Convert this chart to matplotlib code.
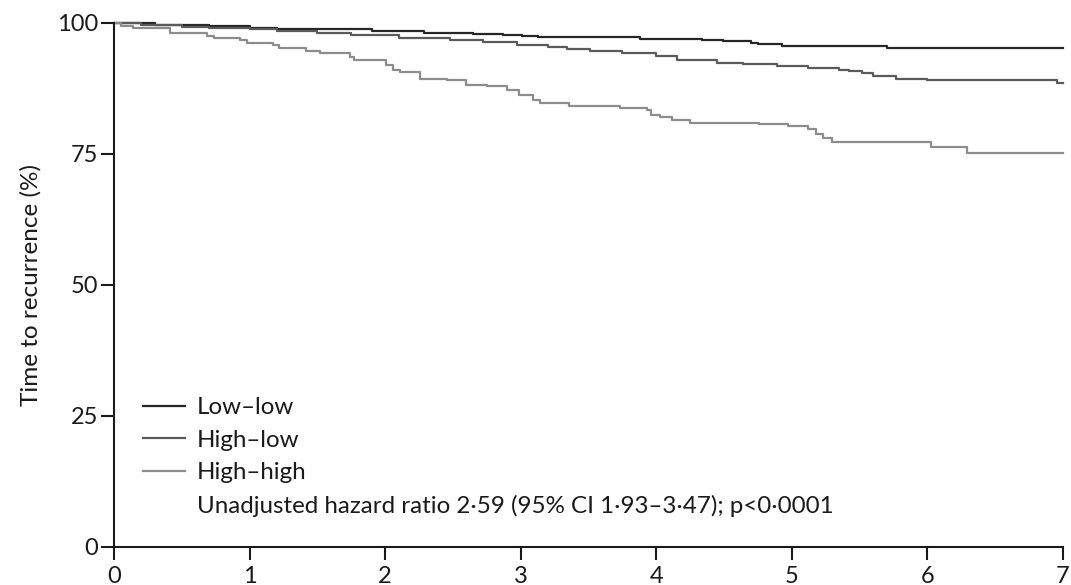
import matplotlib.pyplot as plt
from matplotlib.lines import Line2D

plt.rcParams['font.family'] = ['Lato', 'DejaVu Sans']

# Kaplan-Meier steps (years, % free of recurrence)
low_low_t = [0, 0.3, 0.7, 1.0, 1.2, 1.9, 2.29, 2.65, 2.87, 3.01, 3.13, 3.88, 4.34, 4.49, 4.7, 4.75, 4.93, 5.7, 7.0]
low_low_s = [100, 99.7, 99.4, 99.1, 98.8, 98.4, 98.1, 97.9, 97.8, 97.5, 97.3, 96.9, 96.7, 96.5, 96.1, 95.9, 95.6, 95.3, 95.3]

high_low_t = [0, 0.2, 0.5, 0.7, 1.0, 1.2, 1.5, 1.75, 2.1, 2.48, 2.72, 2.97, 3.2, 3.34, 3.51, 3.75, 4.0, 4.15,
              4.45, 4.64, 4.89, 5.12, 5.35, 5.42, 5.52, 5.6, 5.77, 6.0, 6.96, 7.0]
high_low_s = [100, 99.6, 99.3, 99.0, 98.8, 98.5, 98.0, 97.7, 97.1, 96.7, 96.3, 95.8, 95.4, 95.0, 94.7, 94.2, 93.7, 93.0,
              92.4, 92.1, 91.7, 91.4, 91.1, 90.8, 90.5, 89.8, 89.4, 89.1, 88.6, 88.6]

high_high_t = [0, 0.05, 0.14, 0.41, 0.69, 0.74, 0.93, 0.98, 1.17, 1.22, 1.42, 1.52, 1.74, 1.77, 2.01, 2.06, 2.11,
               2.26, 2.46, 2.6, 2.75, 2.9, 2.99, 3.09, 3.14, 3.36, 3.73, 3.93, 3.96, 4.03, 4.12, 4.25, 4.76, 4.97,
               5.12, 5.18, 5.23, 5.3, 6.03, 6.29, 7.0]
high_high_s = [100, 99.5, 99.0, 98.0, 97.5, 97.1, 96.8, 96.2, 95.8, 95.2, 94.7, 94.2, 93.6, 92.9, 92.0, 91.0, 90.7,
               89.4, 89.1, 88.2, 87.9, 87.2, 86.3, 85.3, 84.7, 84.1, 83.7, 83.4, 82.4, 82.0, 81.5, 81.0, 80.7, 80.3,
               79.7, 78.9, 78.0, 77.2, 76.4, 75.2, 75.2]

labels = ['Low–low', 'High–low', 'High–high']
colors = ['#262626', '#5a5a5a', '#8c8c8c']
hr_text = 'Unadjusted hazard ratio 2·59 (95% CI 1·93–3·47); p<0·0001'

fig = plt.figure(figsize=(10.71, 5.85), dpi=100)
ax = fig.add_axes([0.1064, 0.065, 0.886, 0.8957])

curves = [(low_low_t, low_low_s), (high_low_t, high_low_s), (high_high_t, high_high_s)]
for (t, s), c in zip(curves, colors):
    ax.step(t, s, where='post', color=c, lw=1.6, clip_on=False)

ax.set_xlim(0, 7)
ax.set_ylim(0, 100)
ax.set_xticks(range(8))
ax.set_yticks([0, 25, 50, 75, 100])
ax.spines['top'].set_visible(False)
ax.spines['right'].set_visible(False)
for sp in ['left', 'bottom']:
    ax.spines[sp].set_linewidth(1.5)
    ax.spines[sp].set_color('#1a1a1a')
ax.tick_params(length=9.5, width=1.5, labelsize=17, color='#1a1a1a', labelcolor='#1a1a1a', pad=2)
ax.tick_params(axis='x', pad=4)
ax.set_ylabel('Time to recurrence (%)', fontsize=17.5, color='#1a1a1a', labelpad=11)

handles = [Line2D([], [], color=c, lw=1.6) for c in colors]
handles.append(Line2D([], [], color='none'))
ax.legend(handles, labels + [hr_text], loc='lower left', bbox_to_anchor=(0.0306, 0.058),
          frameon=False, fontsize=17.4, handlelength=1.74, handletextpad=0.5,
          labelspacing=0.47, borderpad=0, borderaxespad=0, labelcolor='#1a1a1a')

fig.savefig('out.png', dpi=100)
